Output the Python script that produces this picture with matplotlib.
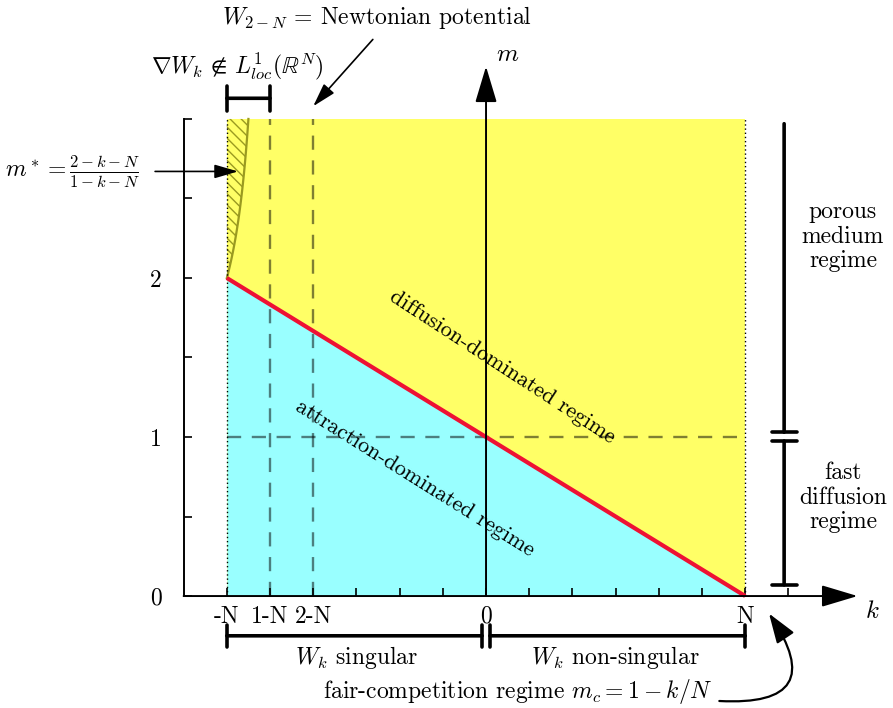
import matplotlib
matplotlib.use("Agg")
import matplotlib.pyplot as plt
import numpy as np

plt.rcParams["font.family"] = "serif"
plt.rcParams["font.serif"] = ["cmr10", "DejaVu Serif"]
plt.rcParams["mathtext.fontset"] = "cm"
plt.rcParams["axes.unicode_minus"] = False
plt.rcParams["hatch.linewidth"] = 1.0

# dimension N and axis ranges (in k, m units)
N = 6
k_left, k_right = -N, N
m_top = 3.0

# tick positions and labels
x_major = [-N, 1 - N, 2 - N, 0, N]
x_major_labels = ["-N", "1-N", "2-N", "0", "N"]
x_minor = [-3, -2, -1, 1, 2, 3, 4, 5, 7]
y_major = [0, 1, 2]
y_major_labels = ["0", "1", "2"]
y_minor = [0.5, 1.5, 2.5, 3.0]

# critical line m_c = 1 - k/N
k_line = np.array([-N, N])
m_line = 1 - k_line / N

# m* = (2-k-N)/(1-k-N), parametrised by m between 2 and 3
m_star = np.linspace(2, m_top, 60)
k_star = (2 - N - m_star + m_star * N) / (1 - m_star)

YELLOW = "#ffff66"
CYAN = "#99ffff"
RED = "#ee1133"
OLIVE = "#9a9a20"

fig = plt.figure(figsize=(8.93, 7.08), dpi=100)
ax = fig.add_axes([0, 0, 1, 1])
ax.set_xlim(-11.25, 9.42)
ax.set_ylim(-0.704, 3.748)

# regions
ax.fill_between([k_left, k_right], 0, m_top, color=YELLOW, lw=0, zorder=1)
ax.fill_between(k_line, 0, m_line, color=CYAN, lw=0, zorder=1.1)
ax.fill_betweenx(m_star, k_left, k_star, facecolor="none", edgecolor=OLIVE,
                 hatch="\\\\\\", lw=0, zorder=1.2)
ax.plot(k_star, m_star, color=OLIVE, lw=1.6, zorder=1.3)

# dotted borders at k = -N and k = N
for kk in (k_left, k_right):
    ax.plot([kk, kk], [0, m_top], color="black", ls=(0, (1, 2)), lw=1.0, zorder=1.4)

# dashed guides
dash = (0, (6, 4.5))
for kk in (1 - N, 2 - N):
    ax.plot([kk, kk], [0, m_top], color="black", alpha=0.5, ls=dash, lw=1.7, zorder=1.5)
ax.plot([k_left, k_right], [1, 1], color="black", alpha=0.5, ls=dash, lw=1.7, zorder=1.5)

# critical line
ax.plot(k_line, m_line, color=RED, lw=3.0, zorder=3, solid_capstyle="butt")

# axes: left spine with ticks, k axis and m axis as arrows
for s in ("top", "right", "bottom"):
    ax.spines[s].set_visible(False)
ax.spines["left"].set_position(("data", -7))
ax.spines["left"].set_bounds(0, m_top)
ax.spines["left"].set_linewidth(1.4)
ax.spines["bottom"].set_position(("data", 0))

ax.set_xticks(x_major, x_major_labels)
ax.set_xticks(x_minor, minor=True)
ax.set_yticks(y_major, y_major_labels)
ax.set_yticks(y_minor, minor=True)
ax.tick_params(axis="both", which="both", direction="in", length=6, width=1.2,
               labelsize=17)
ax.tick_params(axis="x", pad=7)
ax.tick_params(axis="y", pad=16)
ax.xaxis.set_ticks_position("bottom")
ax.yaxis.set_ticks_position("left")

arrow_kw = dict(arrowstyle="-|>,head_length=1.5,head_width=0.45", color="black",
                lw=1.4, shrinkA=0, shrinkB=0, mutation_scale=15)
ax.annotate("", xy=(8.6, 0), xytext=(-7, 0), arrowprops=arrow_kw, zorder=4)
ax.annotate("", xy=(0, 3.33), xytext=(0, 0), arrowprops=arrow_kw, zorder=4)
ax.text(8.95, -0.1, "$k$", fontsize=18, ha="center", va="center")
ax.text(0.5, 3.4, "$m$", fontsize=18, ha="center", va="center")

# regime labels
ax.text(0.37, 1.44, "diffusion-dominated regime", fontsize=16, rotation=-33,
        rotation_mode="anchor", ha="center", va="center", zorder=5)
ax.text(-1.64, 0.74, "attraction-dominated regime", fontsize=16, rotation=-32,
        rotation_mode="anchor", ha="center", va="center", zorder=5)

# bracket helpers
bar_kw = dict(color="black", lw=2.6, shrinkA=0, shrinkB=0, mutation_scale=20)

def bracket(x0, y0, x1, y1, style):
    ax.annotate("", xy=(x1, y1), xytext=(x0, y0),
                arrowprops=dict(arrowstyle=style, **bar_kw),
                annotation_clip=False)

small_arrow = dict(arrowstyle="-|>,head_length=1.2,head_width=0.35",
                   color="black", lw=1.2, shrinkA=0, shrinkB=0, mutation_scale=12)

# top annotations
bracket(-N, 3.13, 1 - N, 3.13, "|-|,widthA=0.45,widthB=0.45")
ax.text(-5.76, 3.33, r"$\nabla W_k \,\notin\, L^1_{loc}(\mathbb{R}^N)$", fontsize=17,
        ha="center", va="center")
ax.text(-2.52, 3.64, r"$W_{2-N}$ = Newtonian potential", fontsize=17,
        ha="center", va="center")
ax.annotate("", xy=(2 - N, 3.08), xytext=(-2.62, 3.5), arrowprops=small_arrow)

ax.text(-9.58, 2.67, r"$m^* = \frac{2-k-N}{1-k-N}$", fontsize=17,
        ha="center", va="center")
ax.annotate("", xy=(-5.74, 2.67), xytext=(-7.66, 2.67), arrowprops=small_arrow)

# right annotations
bracket(6.9, 1.03, 6.9, 2.97, "|-|,widthA=0.45,widthB=0")
bracket(6.9, 0.975, 6.9, 0.07, "|-|,widthA=0.45,widthB=0.45")
ax.text(8.26, 2.26, "porous\nmedium\nregime", fontsize=17, ha="center",
        va="center", linespacing=1.15)
ax.text(8.26, 0.62, "fast\ndiffusion\nregime", fontsize=17, ha="center",
        va="center", linespacing=1.15)

# bottom annotations
bracket(-N, -0.25, -0.09, -0.25, "|-|,widthA=0.4,widthB=0.4")
bracket(0.09, -0.25, N, -0.25, "|-|,widthA=0.4,widthB=0.4")
ax.text(-3, -0.385, "$W_k$ singular", fontsize=17, ha="center", va="center")
ax.text(3, -0.385, "$W_k$ non-singular", fontsize=17, ha="center", va="center")
ax.text(5.25, -0.6, "fair-competition regime $m_c = 1 - k/N$", fontsize=17,
        ha="right", va="center")
ax.annotate("", xy=(6.55, -0.11), xytext=(5.4, -0.66),
            arrowprops=dict(arrowstyle="-|>,head_length=1.3,head_width=0.45",
                            connectionstyle="arc3,rad=1.0", color="black",
                            lw=1.6, shrinkA=0, shrinkB=0, mutation_scale=14),
            annotation_clip=False)

fig.savefig("out.png", dpi=100)
